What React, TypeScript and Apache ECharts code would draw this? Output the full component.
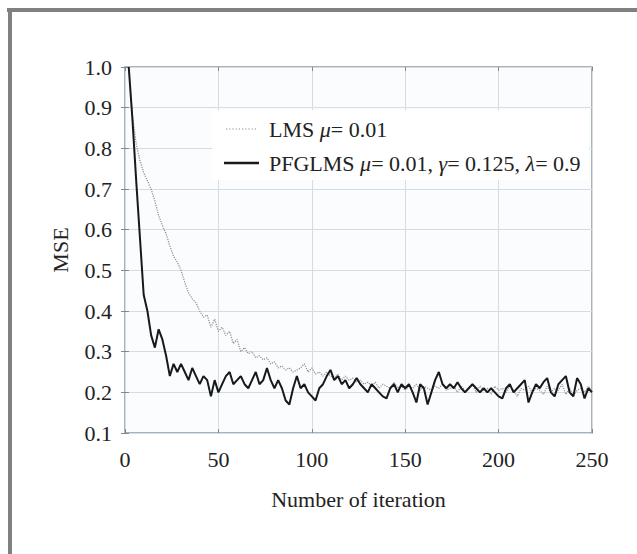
import React, { useEffect, useRef } from "react";
import * as echarts from "echarts";

// MSE of the two adaptive filters, sampled every 2 iterations (iteration 2 .. 250)
const lmsMse = [
  1.0, 0.88, 0.81, 0.77, 0.74, 0.72, 0.7, 0.67, 0.635, 0.61,
  0.59, 0.56, 0.535, 0.52, 0.5, 0.47, 0.445, 0.43, 0.42, 0.4,
  0.385, 0.39, 0.36, 0.38, 0.35, 0.36, 0.34, 0.35, 0.32, 0.33,
  0.3, 0.31, 0.295, 0.3, 0.285, 0.29, 0.28, 0.285, 0.27, 0.275,
  0.26, 0.265, 0.255, 0.26, 0.25, 0.255, 0.26, 0.27, 0.25, 0.26,
  0.245, 0.25, 0.24, 0.25, 0.24, 0.235, 0.245, 0.23, 0.24, 0.23,
  0.235, 0.225, 0.23, 0.22, 0.225, 0.215, 0.225, 0.21, 0.22, 0.215,
  0.21, 0.225, 0.21, 0.215, 0.205, 0.215, 0.21, 0.22, 0.205, 0.215,
  0.21, 0.205, 0.215, 0.21, 0.22, 0.205, 0.21, 0.215, 0.2, 0.215,
  0.205, 0.21, 0.22, 0.2, 0.215, 0.205, 0.21, 0.195, 0.215, 0.205,
  0.21, 0.2, 0.215, 0.205, 0.19, 0.21, 0.205, 0.215, 0.2, 0.21,
  0.205, 0.195, 0.215, 0.2, 0.21, 0.205, 0.22, 0.195, 0.21, 0.19,
  0.205, 0.21, 0.2, 0.215, 0.205,
];

const pfglmsMse = [
  1.0, 0.87, 0.72, 0.58, 0.44, 0.4, 0.34, 0.31, 0.355, 0.33,
  0.29, 0.24, 0.27, 0.25, 0.27, 0.25, 0.23, 0.26, 0.24, 0.22,
  0.24, 0.23, 0.19, 0.23, 0.2, 0.22, 0.24, 0.25, 0.22, 0.23,
  0.24, 0.22, 0.21, 0.23, 0.25, 0.22, 0.23, 0.26, 0.23, 0.21,
  0.23, 0.21, 0.18, 0.17, 0.21, 0.24, 0.21, 0.22, 0.2, 0.19,
  0.18, 0.21, 0.22, 0.24, 0.255, 0.23, 0.24, 0.22, 0.23, 0.21,
  0.22, 0.235, 0.22, 0.21, 0.2, 0.22, 0.21, 0.2, 0.19, 0.185,
  0.21, 0.22, 0.2, 0.22, 0.21, 0.22, 0.2, 0.175, 0.22, 0.21,
  0.17, 0.2, 0.23, 0.25, 0.22, 0.21, 0.22, 0.21, 0.225, 0.21,
  0.2, 0.21, 0.22, 0.21, 0.2, 0.21, 0.2, 0.21, 0.2, 0.19,
  0.185, 0.21, 0.22, 0.2, 0.21, 0.22, 0.23, 0.175, 0.2, 0.22,
  0.21, 0.225, 0.235, 0.2, 0.19, 0.22, 0.23, 0.24, 0.2, 0.19,
  0.235, 0.22, 0.185, 0.21, 0.2,
];

const iterationStart = 2;
const iterationStep = 2;
const iterations = lmsMse.map((_, i) => iterationStart + iterationStep * i);

const xTicks = [0, 50, 100, 150, 200, 250];
const yTicks = [0.1, 0.2, 0.3, 0.4, 0.5, 0.6, 0.7, 0.8, 0.9, 1.0];

const seriesNames = ["LMS μ= 0.01", "PFGLMS μ= 0.01, γ= 0.125, λ= 0.9"];

const SERIF = "'Liberation Serif', 'Times New Roman', serif";
const LMS_COLOR = "#8c8c8c";
const PFG_COLOR = "#161a1c";
const FS = 22;

export default function App() {
  const ref = useRef<HTMLDivElement>(null);

  useEffect(() => {
    if (!ref.current) return;
    const chart = echarts.init(ref.current, null, { renderer: "svg" });

    const lmsData = iterations.map((x, i) => [x, lmsMse[i]]);
    const pfgData = iterations.map((x, i) => [x, pfglmsMse[i]]);

    const xCommon = {
      min: xTicks[0],
      max: xTicks[xTicks.length - 1],
      interval: 50,
    };
    const yCommon = {
      min: yTicks[0],
      max: yTicks[yTicks.length - 1],
      interval: 0.1,
    };

    const rich = {
      t: { fontFamily: SERIF, fontSize: FS, fill: "#222", color: "#222" },
      i: { fontFamily: SERIF, fontSize: FS, fill: "#222", color: "#222", fontStyle: "italic" },
    };

    chart.setOption({
      animation: false,
      backgroundColor: "#ffffff",
      graphic: [
        { type: "rect", shape: { x: 7, y: 8, width: 630, height: 4 }, style: { fill: "#808080" }, z: 100 },
        { type: "rect", shape: { x: 8, y: 8, width: 4, height: 546 }, style: { fill: "#808080" }, z: 100 },
        // legend box
        { type: "rect", shape: { x: 212, y: 110, width: 377, height: 70 }, style: { fill: "#ffffff" }, z: 50 },
        {
          type: "line",
          shape: { x1: 226, y1: 129, x2: 258, y2: 129 },
          style: { stroke: LMS_COLOR, lineWidth: 1.2, lineDash: [1.2, 2] },
          z: 51,
        },
        {
          type: "line",
          shape: { x1: 224, y1: 163, x2: 259, y2: 163 },
          style: { stroke: PFG_COLOR, lineWidth: 2.5 },
          z: 51,
        },
        {
          type: "text",
          x: 269,
          y: 129,
          z: 51,
          style: {
            text: "{t|LMS }{i|μ}{t|= 0.01}",
            rich,
            fontFamily: SERIF,
            fontSize: FS,
            fill: "#222",
            verticalAlign: "middle",
            align: "left",
          },
        },
        {
          type: "text",
          x: 269,
          y: 163,
          z: 51,
          style: {
            text: "{t|PFGLMS }{i|μ}{t|= 0.01, }{i|γ}{t|= 0.125, }{i|λ}{t|= 0.9}",
            rich,
            fontFamily: SERIF,
            fontSize: FS,
            fill: "#222",
            verticalAlign: "middle",
            align: "left",
          },
        },
      ],
      grid: {
        left: 125,
        right: 45,
        top: 67,
        bottom: 121,
        show: true,
        backgroundColor: "#fbfcfd",
        borderColor: "#8d9ba2",
        borderWidth: 1.5,
      },
      xAxis: [
        {
          type: "value",
          ...xCommon,
          name: "Number of iteration",
          nameLocation: "middle",
          nameGap: 55,
          nameTextStyle: { fontFamily: SERIF, fontSize: FS, color: "#222" },
          axisLine: { show: false },
          axisTick: { show: true, inside: true, length: 4, lineStyle: { color: "#7d8b92" } },
          axisLabel: { fontFamily: SERIF, fontSize: FS, color: "#222", margin: 15 },
          splitLine: { show: true, lineStyle: { color: "#d3dde3", width: 1 } },
        },
        {
          type: "value",
          ...xCommon,
          position: "top",
          axisLine: { show: false },
          axisTick: { show: true, inside: true, length: 4, lineStyle: { color: "#7d8b92" } },
          axisLabel: { show: false },
          splitLine: { show: false },
        },
      ],
      yAxis: [
        {
          type: "value",
          ...yCommon,
          name: "MSE",
          nameLocation: "middle",
          nameGap: 54,
          nameTextStyle: { fontFamily: SERIF, fontSize: FS, color: "#222" },
          axisLine: { show: false },
          axisTick: { show: true, inside: true, length: 4, lineStyle: { color: "#7d8b92" } },
          axisLabel: {
            fontFamily: SERIF,
            fontSize: FS,
            color: "#222",
            margin: 13,
            formatter: (v: number) => v.toFixed(1),
          },
          splitLine: { show: true, lineStyle: { color: "#d3dde3", width: 1 } },
        },
        {
          type: "value",
          ...yCommon,
          position: "right",
          axisLine: { show: false },
          axisTick: { show: true, inside: true, length: 4, lineStyle: { color: "#7d8b92" } },
          axisLabel: { show: false },
          splitLine: { show: false },
        },
      ],
      series: [
        {
          name: seriesNames[0],
          type: "line",
          data: lmsData,
          showSymbol: false,
          symbol: "none",
          lineStyle: { color: LMS_COLOR, width: 1.2, type: "dotted" },
          itemStyle: { color: LMS_COLOR },
          z: 2,
        },
        {
          name: seriesNames[1],
          type: "line",
          data: pfgData,
          showSymbol: false,
          symbol: "none",
          lineStyle: { color: PFG_COLOR, width: 2 },
          itemStyle: { color: PFG_COLOR },
          z: 3,
        },
      ],
    });

    return () => chart.dispose();
  }, []);

  return (
    <div
      ref={ref}
      style={{ position: "fixed", left: 0, top: 0, width: 637, height: 554 }}
    />
  );
}
